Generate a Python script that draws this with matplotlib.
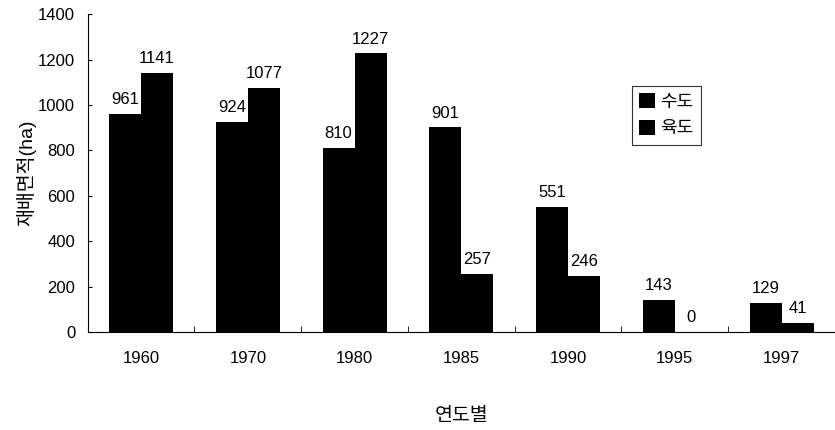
import matplotlib
matplotlib.use("Agg")
import matplotlib.pyplot as plt
import numpy as np

plt.rcParams['font.family'] = ['Liberation Sans', 'Noto Sans CJK KR', 'DejaVu Sans']

years = ['1960', '1970', '1980', '1985', '1990', '1995', '1997']
paddy = [961, 924, 810, 901, 551, 143, 129]     # 수도
upland = [1141, 1077, 1227, 257, 246, 0, 41]    # 육도

x = np.arange(len(years))
w = 0.3

fig = plt.figure(figsize=(8.35, 4.3), dpi=100)
ax = fig.add_axes([0.105, 0.228, 0.895, 0.739])

b1 = ax.bar(x - w / 2, paddy, w, color='black', label='수도')
b2 = ax.bar(x + w / 2, upland, w, color='black', label='육도')

for bars, vals in ((b1, paddy), (b2, upland)):
    for r, v in zip(bars, vals):
        ax.annotate(str(v), (r.get_x() + r.get_width() / 2, v),
                    xytext=(0, 5), textcoords='offset points',
                    ha='center', va='bottom', fontsize=12)

ax.set_xlim(-0.5, len(years) - 0.5)
ax.set_ylim(0, 1400)
ax.set_yticks(range(0, 1401, 200))
ax.set_xticks(x)
ax.set_xticklabels(years, fontsize=12)
ax.set_xticks(np.arange(0.5, len(years) - 0.5), minor=True)
ax.tick_params(axis='x', which='major', length=0, pad=14)
ax.tick_params(axis='x', which='minor', direction='in', length=4)
ax.tick_params(axis='y', direction='in', length=3, labelsize=12, pad=9)

for s in ('top', 'right'):
    ax.spines[s].set_visible(False)

ax.set_ylabel('재배면적(ha)', fontsize=14, labelpad=1)
ax.set_xlabel('연도별', fontsize=14, labelpad=30)

leg = ax.legend(loc='upper left', bbox_to_anchor=(0.728, 0.775), frameon=True,
                fancybox=False, edgecolor='black', fontsize=13,
                handlelength=0.9, handleheight=0.9, handletextpad=0.3,
                borderpad=0.4, labelspacing=0.5, borderaxespad=0)
leg.get_frame().set_linewidth(0.8)

fig.savefig('out.png', dpi=100)
